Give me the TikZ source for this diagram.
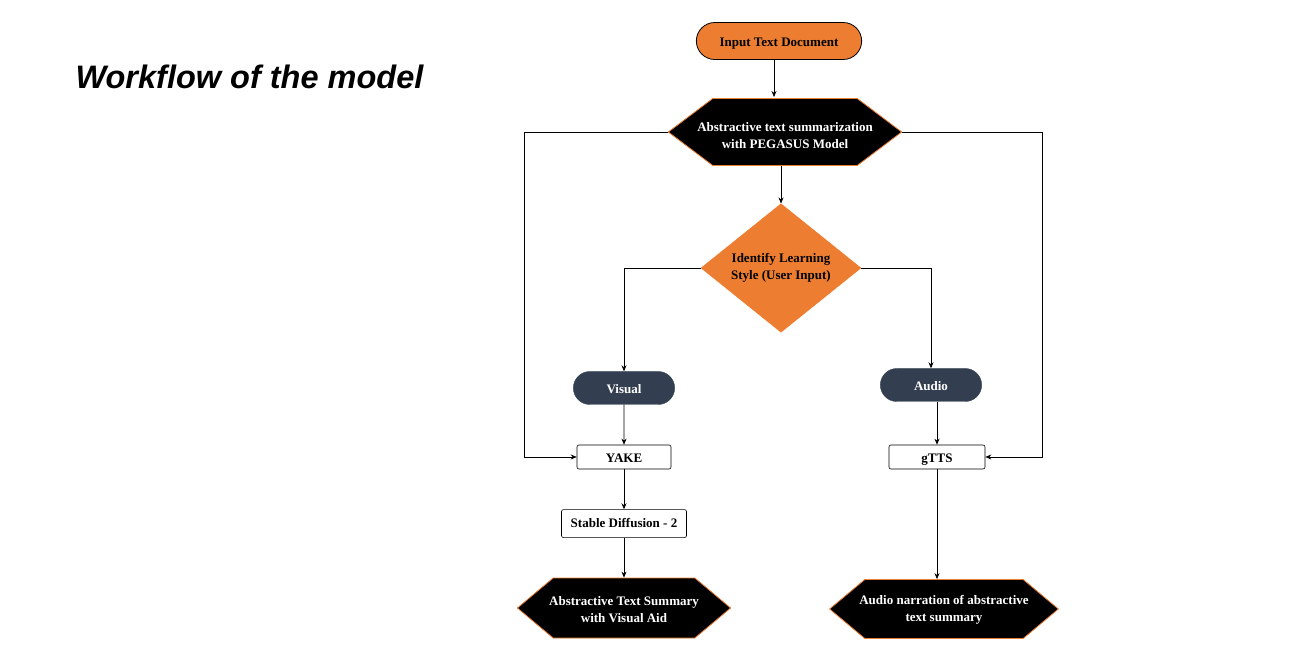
\documentclass[tikz,border=0pt]{standalone}
\usepackage{fontspec}
\setmainfont{Liberation Serif}
\newfontfamily\titlefont{Liberation Sans}
\usetikzlibrary{shapes.geometric,shapes.misc,shapes.symbols,positioning,arrows.meta}

\definecolor{flowOrange}{HTML}{ED7D31}
\definecolor{flowSlate}{HTML}{333F50}

\tikzset{
  terminal/.style={rounded rectangle,draw=black,fill=flowOrange,line width=0.8pt,
    font=\fontsize{13}{15}\selectfont\bfseries,minimum width=172pt,minimum height=37pt,
    text height=12pt,text depth=0pt},
  choice/.style={rounded rectangle,draw=flowSlate,fill=flowSlate,text=white,
    font=\fontsize{13}{15}\selectfont\bfseries,minimum width=108pt,minimum height=33pt,
    text height=11pt,text depth=0pt},
  process/.style={rectangle,rounded corners=2pt,draw=black,fill=white,line width=0.6pt,
    font=\fontsize{13}{15}\selectfont\bfseries,minimum height=24pt,inner sep=2pt,
    text height=11pt,text depth=0pt},
  prep/.style={signal,signal to=east and west,draw=flowOrange,fill=black,text=white,
    line width=0.8pt,align=center,font=\fontsize{13}{17}\selectfont\bfseries,text depth=0pt},
  decision/.style={diamond,draw=flowOrange,fill=flowOrange,align=center,inner sep=0pt,
    font=\fontsize{13}{17}\selectfont\bfseries,minimum width=160pt,minimum height=119pt},
  flow/.style={-{Stealth[length=6pt,width=5pt]},line width=0.7pt}
}

\begin{document}
\begin{tikzpicture}[x=1pt,y=-1pt]
\useasboundingbox (0,0) rectangle (1302,668);

\node[anchor=base west,font=\titlefont\fontsize{32.5}{38}\selectfont\bfseries\itshape] (title) at (72,89) {Workflow of the model};

\node[terminal] (input) at (779,41) {Input Text Document};
\node[prep,inner xsep=-15.5pt,minimum height=67pt,signal pointer angle=74,text height=33.5pt] (pegasus) at (785,132)
  {Abstractive text summarization\\with PEGASUS Model};
\node[decision] (style) at (781,268) {Identify Learning\\Style (User Input)};

\node[choice] (visual) at (624,388) {Visual};
\node[choice] (audio) at (931,385) {Audio};

\node[process,minimum width=94pt] (yake) at (624,457) {YAKE};
\node[process,minimum width=96pt] (gtts) at (937,457) {gTTS};
\node[process,minimum width=125pt,minimum height=28pt,text height=8pt] (diffusion) [below=40pt of yake] {Stable Diffusion - 2};

\node[prep,inner xsep=-4pt,minimum height=60pt,signal pointer angle=80,text height=28pt] (visout) at (624,608)
  {Abstractive Text Summary\\with Visual Aid};
\node[prep,inner xsep=-5.5pt,minimum height=59pt,signal pointer angle=80,text height=25pt] (audout) at (944,609)
  {Audio narration of abstractive\\text summary};

\coordinate (lcorner) at (524,132);
\coordinate (rcorner) at (1042,132);

% main column
\draw[flow] (input.south -| 774,0) -- (774,97);
\draw[flow] (style.north |- pegasus.south) -- (style.north);
\draw[flow] (style.west) -| (visual.north);
\draw[flow] (style.east) -| (audio.north);

% visual branch
\draw[flow] (visual) -- (yake);
\draw[flow] (yake) -- (diffusion);
\draw[flow] (diffusion) -- (visout.north);

% audio branch
\draw[flow] (gtts.north |- audio.south) -- (gtts.north);
\draw[flow] (gtts.south) -- (gtts.south |- audout.north);

% summary fed straight to both tools
\draw[flow] (pegasus.west) -- (lcorner) |- (yake.west);
\draw[flow] (pegasus.east) -- (rcorner) |- (gtts.east);
\end{tikzpicture}
\end{document}
